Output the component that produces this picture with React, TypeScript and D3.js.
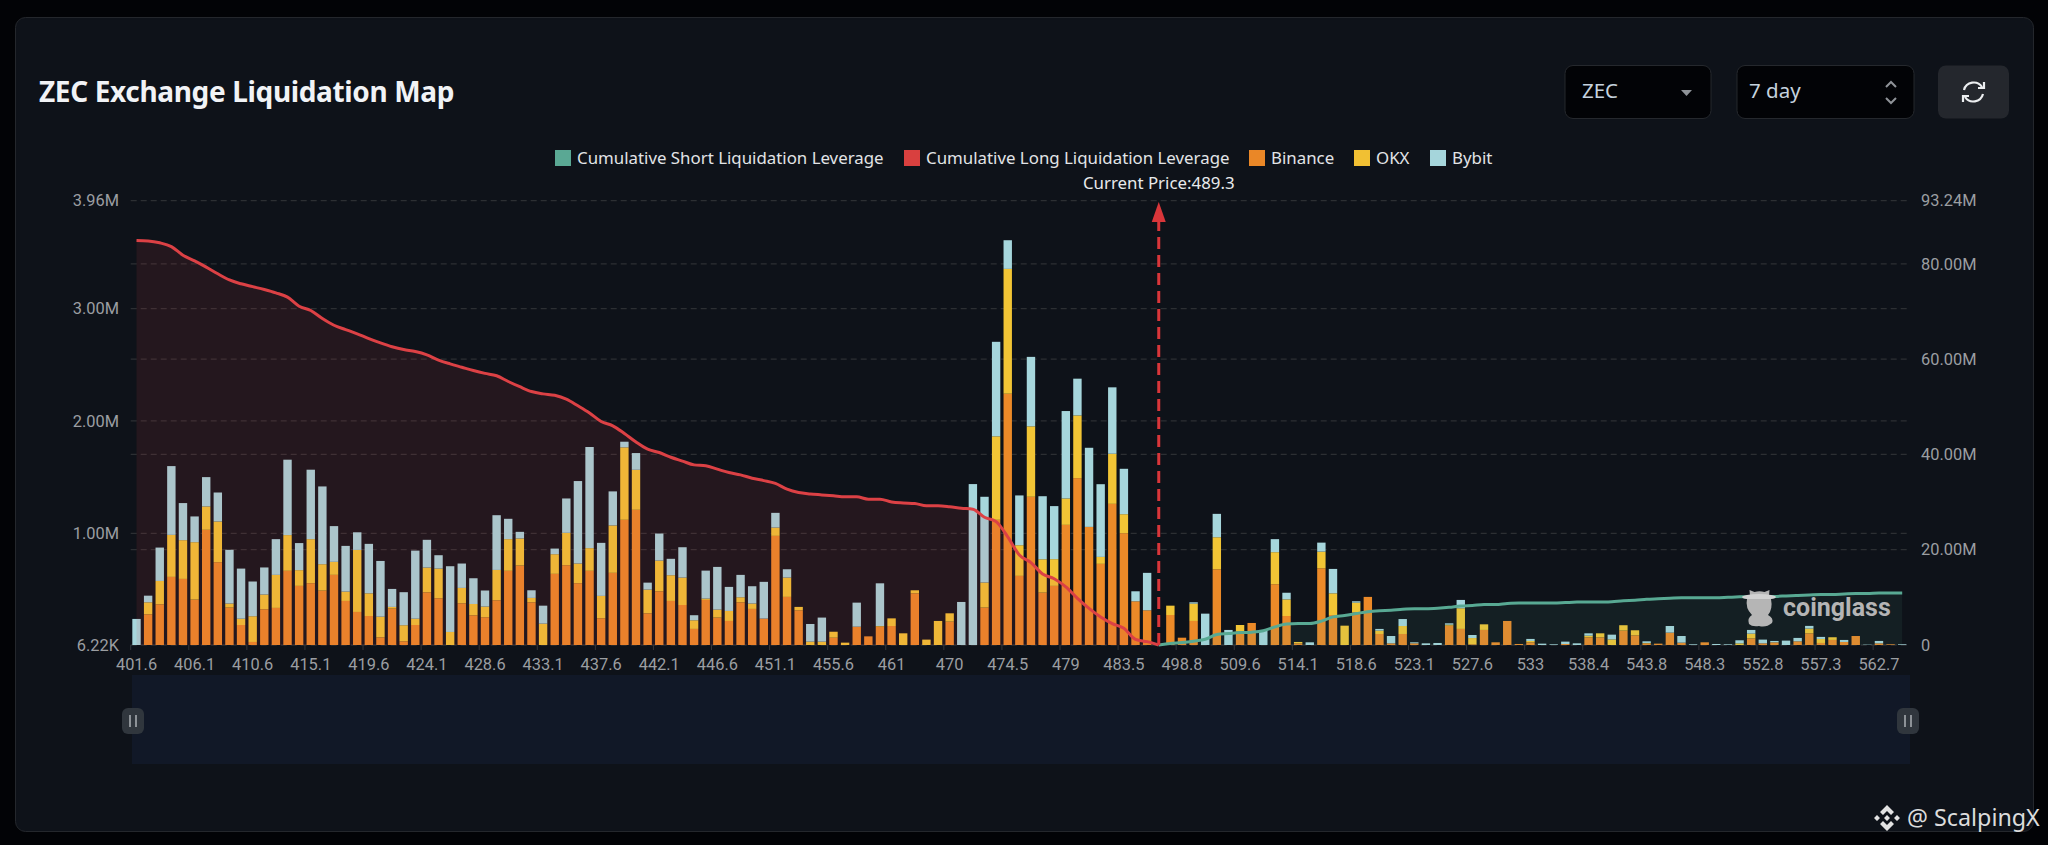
import React, { useEffect, useRef } from 'react';
import * as d3 from 'd3';

const priceLevels = [
  '401.6','402.5','403.4','404.3','405.2','406.1','407','407.9','408.8','409.7',
  '410.6','411.5','412.4','413.3','414.2','415.1','416','416.9','417.8','418.7',
  '419.6','420.5','421.4','422.3','423.2','424.1','425','425.9','426.8','427.7',
  '428.6','429.5','430.4','431.3','432.2','433.1','434','434.9','435.8','436.7',
  '437.6','438.5','439.4','440.3','441.2','442.1','443','443.9','444.8','445.7',
  '446.6','447.5','448.4','449.3','450.2','451.1','452','452.9','453.8','454.7',
  '455.6','456.5','457.4','458.3','460.1','461','461.9','463.7','465.5','467.3',
  '470','470.9','471.8','472.7','473.6','474.5','475.4','476.3','477.2','478.1',
  '479','479.9','480.8','481.7','482.6','483.5','484.4','486.2','489.3','494.3',
  '498.8','500.6','502.4','505.1','507.8','509.6','510.5','511.4','512.3','513.2',
  '514.1','515','515.9','516.8','517.7','518.6','519.5','520.4','521.3','522.2',
  '523.1','524','524.9','525.8','526.7','527.6','528.5','529.4','530.3','532.1',
  '533','533.9','534.8','535.7','537.5','538.4','539.3','540.2','541.1','542.9',
  '543.8','544.7','545.6','546.5','547.4','548.3','549.2','550.1','551','551.9',
  '552.8','553.7','554.6','555.5','556.4','557.3','558.2','559.1','560','561.8',
  '562.7','563.6','564.5',
];

// exchange values, in thousands
const binance = [
  0,273,362,606,588,404,1025,737,333,178,
  27,318,330,660,526,550,484,624,392,294,
  258,68,324,33,178,469,416,0,371,264,
  247,398,660,707,380,0,633,710,550,660,
  238,642,1114,1203,282,478,392,356,143,401,
  244,214,380,321,235,971,428,309,0,0,
  65,0,163,77,163,169,0,460,0,0,
  208,0,0,333,1114,2236,615,1319,466,526,
  1069,1485,1051,722,1256,995,389,309,0,267,
  65,214,0,674,0,119,196,0,541,258,
  15,0,683,267,0,291,428,98,15,98,
  15,0,0,172,143,6,134,24,214,9,
  24,0,0,9,0,68,68,0,128,86,
  15,12,110,21,0,24,0,0,0,59,
  15,24,0,33,104,18,45,27,80,0,
  15,6,0,
];
const okx = [
  0,107,208,374,345,511,208,362,36,56,
  229,131,294,318,140,392,235,116,83,552,
  202,184,15,143,56,220,264,116,137,101,
  95,270,282,241,39,190,175,288,175,202,
  199,422,645,356,211,273,229,244,77,12,
  71,89,45,48,0,74,172,30,30,30,
  53,21,0,0,6,68,104,27,48,214,
  74,0,0,223,743,1111,273,627,297,238,
  235,558,0,62,446,169,0,0,0,83,
  0,154,0,285,0,59,0,0,285,148,
  12,0,148,193,172,86,0,30,0,71,
  0,0,0,9,184,56,50,0,0,0,
  12,0,0,0,0,15,36,50,48,45,
  3,0,0,0,0,0,0,0,15,42,
  0,0,0,0,42,36,24,0,0,0,
  0,0,0,
];
const bybit = [
  232,59,297,612,330,229,261,258,478,446,
  309,241,318,671,241,618,692,318,407,157,
  440,496,160,294,606,247,119,585,217,229,
  143,487,181,59,68,160,50,306,734,900,
  472,303,50,149,62,241,146,270,45,249,
  380,214,199,154,327,131,74,0,157,214,
  0,0,214,0,380,0,0,0,0,0,
  0,383,1432,763,841,255,443,618,561,472,
  778,327,704,647,591,404,89,333,0,0,
  0,12,279,208,134,0,0,134,116,59,
  0,24,80,217,0,12,0,15,65,62,
  9,15,18,12,74,27,0,0,0,0,
  18,12,6,21,15,21,0,42,0,0,
  15,0,59,59,6,0,9,6,27,33,
  33,12,39,30,24,18,0,18,0,3,
  21,0,6,
];

// cumulative leverage, in millions
const longCumulative = [
  84.9,84.8,84.4,83.6,81.8,80.6,79.3,77.9,76.6,75.8,
  75.2,74.6,73.9,73.0,71.1,70.2,68.5,67.1,66.2,65.3,
  64.3,63.4,62.6,62.0,61.6,60.9,59.8,59.0,58.3,57.6,
  57.0,56.5,55.3,54.2,53.2,52.7,52.4,51.6,50.2,48.7,
  46.9,46.0,44.4,42.6,41.1,40.4,39.4,38.6,37.8,37.6,
  36.9,36.2,35.7,35.0,34.5,33.9,32.7,32.0,31.7,31.5,
  31.3,31.1,31.1,30.6,30.6,30.0,29.8,29.7,29.2,29.2,
  29.0,28.7,28.5,26.8,25.9,22.7,18.9,17.3,14.9,13.9,
  12.2,9.8,7.7,5.9,4.5,3.5,1.2,0.7,0,
];
const shortCumulative = [
  0,0.3,0.5,0.8,1.2,2.2,2.4,2.6,2.7,3.0,
  3.8,4.4,4.5,4.5,5.0,5.9,6.2,6.6,7.0,7.2,
  7.3,7.5,7.6,7.6,7.7,7.9,8.2,8.3,8.5,8.5,
  8.7,8.8,8.8,8.8,8.8,8.9,9.0,9.0,9.0,9.1,
  9.3,9.4,9.6,9.7,9.8,9.9,9.9,9.9,9.9,10.0,
  10.1,10.1,10.2,10.2,10.3,10.4,10.5,10.6,10.6,10.7,
  10.8,10.8,10.9,10.9,10.9,
];

const leftTicks = [6.22, 1000, 2000, 3000, 3960];
const leftLabels = ['6.22K', '1.00M', '2.00M', '3.00M', '3.96M'];
const rightTicks = [0, 20, 40, 60, 80, 93.24];
const rightLabels = ['0', '20.00M', '40.00M', '60.00M', '80.00M', '93.24M'];
const currentPrice = '489.3';

const legendItems = [
  { name: 'Cumulative Short Liquidation Leverage', color: '#5aa894', x: 555 },
  { name: 'Cumulative Long Liquidation Leverage', color: '#d9403f', x: 904 },
  { name: 'Binance', color: '#ea8727', x: 1249 },
  { name: 'OKX', color: '#f1c033', x: 1354 },
  { name: 'Bybit', color: '#a5d5db', x: 1430 },
];
const exchangeColors = ['#ec8a28', '#f2c535', '#a6d6dc'];

const App = () => {
  const chartRef = useRef<SVGSVGElement | null>(null);

  useEffect(() => {
    document.body.style.margin = '0';
    document.body.style.background = '#020306';

    const svg = d3.select(chartRef.current);
    svg.selectAll('*').remove();
    const uiFont = '"Noto Sans", sans-serif';
    const axisFont = 'Roboto, sans-serif';

    svg.append('rect').attr('width', 2048).attr('height', 845).attr('fill', '#020306');
    svg.append('rect')
      .attr('x', 15.5).attr('y', 17.5).attr('width', 2018).attr('height', 814).attr('rx', 10)
      .attr('fill', '#0e1219').attr('stroke', '#24272c');

    svg.append('text')
      .attr('x', 39).attr('y', 102)
      .attr('font-family', uiFont).attr('font-size', 28).attr('font-weight', 700)
      .attr('letter-spacing', -0.35)
      .attr('fill', '#f1f3f6')
      .text('ZEC Exchange Liquidation Map');

    // Header controls
    const box = (x: number, w: number, fill: string) =>
      svg.append('rect').attr('x', x).attr('y', 65.5).attr('width', w).attr('height', 53).attr('rx', 8)
        .attr('fill', fill);
    box(1565, 146, '#020306').attr('stroke', '#25282d');
    box(1737, 177, '#020306').attr('stroke', '#25282d');
    box(1938, 71, '#24272d');
    const ctrlText = (x: number, t: string) =>
      svg.append('text').attr('x', x).attr('y', 98).attr('font-family', uiFont).attr('font-size', 20.5)
        .attr('fill', '#c5d2de').text(t);
    ctrlText(1582, 'ZEC');
    ctrlText(1749, '7 day');
    svg.append('path').attr('d', 'M1681,90 h11 l-5.5,6 z').attr('fill', '#8f9398');
    svg.append('path').attr('d', 'M1886,87 l5,-5 l5,5 M1886,98 l5,5 l5,-5')
      .attr('fill', 'none').attr('stroke', '#8f9398').attr('stroke-width', 2);
    svg.append('path')
      .attr('d', 'M1964,90 a10,10 0 0 1 18,-3 M1983,94 a10,10 0 0 1 -18,3 M1984,82 v6 h-6 M1963,102 v-6 h6')
      .attr('fill', 'none').attr('stroke', '#eceef0').attr('stroke-width', 2.2);

    // Legend
    legendItems.forEach((d) => {
      svg.append('rect').attr('x', d.x).attr('y', 150).attr('width', 16).attr('height', 16).attr('fill', d.color);
      svg.append('text').attr('x', d.x + 22).attr('y', 164)
        .attr('font-family', uiFont).attr('font-size', 16.85).attr('fill', '#e2e4e7').text(d.name);
    });

    const x = d3.scaleBand<string>().domain(priceLevels).range([130.7, 1908]);
    const yLeft = d3.scaleLinear().domain([6.22, 3960]).range([645, 200.7]);
    const yRight = d3.scaleLinear().domain([0, 93.24]).range([645, 200.7]);
    const center = (p: string) => (x(p) as number) + x.bandwidth() / 2;

    // Grid lines
    const grid = (ticks: number[], scale: d3.ScaleLinear<number, number>) =>
      svg.append('g').selectAll('line').data(ticks).enter().append('line')
        .attr('x1', 130.7).attr('x2', 1908)
        .attr('y1', (d) => scale(d)).attr('y2', (d) => scale(d))
        .attr('stroke', '#2c2f33').attr('stroke-dasharray', '6 4').attr('stroke-width', 1.3);
    grid(leftTicks, yLeft);
    grid(rightTicks.slice(1, -1), yRight);

    // Data zoom strip
    svg.append('rect').attr('x', 132).attr('y', 675).attr('width', 1778).attr('height', 89).attr('fill', '#111827');

    // Stacked bars
    const rows = priceLevels.map((p, i) => ({ price: p, binance: binance[i], okx: okx[i], bybit: bybit[i] }));
    const stacked = d3.stack<any>().keys(['binance', 'okx', 'bybit'])(rows);
    svg.append('g').selectAll('g').data(stacked).enter().append('g')
      .attr('fill', (_, i) => exchangeColors[i])
      .selectAll('rect').data((s) => s).enter().append('rect')
      .attr('x', (d) => center(d.data.price) - 4.2)
      .attr('width', 8.4)
      .attr('y', (d) => yLeft(d[1] + 6.22))
      .attr('height', (d) => yLeft(d[0] + 6.22) - yLeft(d[1] + 6.22));

    // Cumulative areas and lines, over the bars
    const longRows = priceLevels.slice(0, longCumulative.length).map((p, i) => ({ p, v: longCumulative[i] }));
    const shortRows = priceLevels.slice(priceLevels.length - shortCumulative.length).map((p, i) => ({ p, v: shortCumulative[i] }));
    const area = d3.area<{ p: string; v: number }>()
      .x((d) => center(d.p)).y0(yRight(0)).y1((d) => yRight(d.v)).curve(d3.curveMonotoneX);
    const line = d3.line<{ p: string; v: number }>()
      .x((d) => center(d.p)).y((d) => yRight(d.v)).curve(d3.curveMonotoneX);
    svg.append('path').attr('d', area(longRows)).attr('fill', '#dc4145').attr('fill-opacity', 0.11);
    svg.append('path').attr('d', area(shortRows)).attr('fill', '#5aa894').attr('fill-opacity', 0.09);
    svg.append('path').attr('d', line(longRows)).attr('fill', 'none').attr('stroke', '#dc4145').attr('stroke-width', 3);
    svg.append('path').attr('d', line(shortRows)).attr('fill', 'none').attr('stroke', '#58a993').attr('stroke-width', 3);

    // Axes
    const styleAxis = (g: any) => {
      g.select('.domain').remove();
      g.selectAll('text').attr('font-family', axisFont).attr('font-size', 16.4).attr('fill', '#9b9ea2');
    };
    const xAxis = svg.append('g').attr('transform', 'translate(0,645)')
      .call(d3.axisBottom(x).tickValues(priceLevels.filter((_, i) => i % 5 === 0)).tickSize(5).tickPadding(8));
    styleAxis(xAxis);
    xAxis.selectAll('line').attr('stroke', '#33363a').attr('transform', `translate(${-x.step() / 2},0)`);

    const leftAxis = svg.append('g').attr('transform', 'translate(119,0)')
      .call(d3.axisLeft(yLeft).tickValues(leftTicks).tickSize(0).tickPadding(0)
        .tickFormat((_, i) => leftLabels[i]));
    styleAxis(leftAxis);
    const rightAxis = svg.append('g').attr('transform', 'translate(1921,0)')
      .call(d3.axisRight(yRight).tickValues(rightTicks).tickSize(0).tickPadding(0)
        .tickFormat((_, i) => rightLabels[i]));
    styleAxis(rightAxis);

    // Current price arrow
    const px = center(currentPrice);
    svg.append('line').attr('x1', px).attr('x2', px).attr('y1', yRight(0)).attr('y2', 218)
      .attr('stroke', '#d9363a').attr('stroke-width', 3).attr('stroke-dasharray', '12 6');
    svg.append('path').attr('d', `M${px},202 l7,20 h-14 z`).attr('fill', '#d9363a');
    svg.append('text').attr('x', px).attr('y', 189).attr('text-anchor', 'middle')
      .attr('font-family', uiFont).attr('font-size', 16.85).attr('fill', '#e8eaec')
      .text(`Current Price:${currentPrice}`);

    // Slider handles
    [133, 1908].forEach((hx) => {
      svg.append('rect').attr('x', hx - 11).attr('y', 708).attr('width', 22).attr('height', 26).attr('rx', 6).attr('fill', '#30363d');
      svg.append('path').attr('d', `M${hx - 3},715 v12 M${hx + 3},715 v12`).attr('stroke', '#8d9297').attr('stroke-width', 2);
    });

    // Coinglass watermark
    const mark = svg.append('g').attr('fill', '#b5b5b5');
    mark.append('path').attr('d', 'M1750,596 l-0.5,-6 l5,2 q5,-1.5 10,0 l5,-2 l-0.5,6 z');
    mark.append('ellipse').attr('cx', 1759).attr('cy', 597).attr('rx', 17).attr('ry', 3).attr('fill', '#d2d2d2');
    mark.append('path').attr('d', 'M1747,599 h24 q2,10 -3,16 q6,3 4,8 q-6,5 -13,3 q-7,1 -10,-2 q-2,-6 3,-9 q-7,-7 -5,-16 z');
    mark.append('text').attr('x', 1783).attr('y', 616)
      .attr('font-family', axisFont).attr('font-size', 25).attr('font-weight', 700).text('coinglass');

    // Reposter tag
    svg.append('path').attr('d', 'M1887,805 l7,7 l-3,3 l-4,-4 l-4,4 l-3,-3 z M1887,831 l7,-7 l-3,-3 l-4,4 l-4,-4 l-3,3 z M1877,815 l3,3 l-3,3 l-3,-3 z M1897,815 l3,3 l-3,3 l-3,-3 z M1887,815 l3,3 l-3,3 l-3,-3 z')
      .attr('fill', '#e2e2e2');
    svg.append('text').attr('x', 1907).attr('y', 826)
      .attr('font-family', uiFont).attr('font-size', 23.3).attr('fill', '#dcdcdc').text('@ ScalpingX');
  }, []);

  return (
    <svg
      ref={chartRef}
      width={2048}
      height={845}
      style={{ position: 'absolute', left: 0, top: 0, display: 'block' }}
    />
  );
};

export default App;
